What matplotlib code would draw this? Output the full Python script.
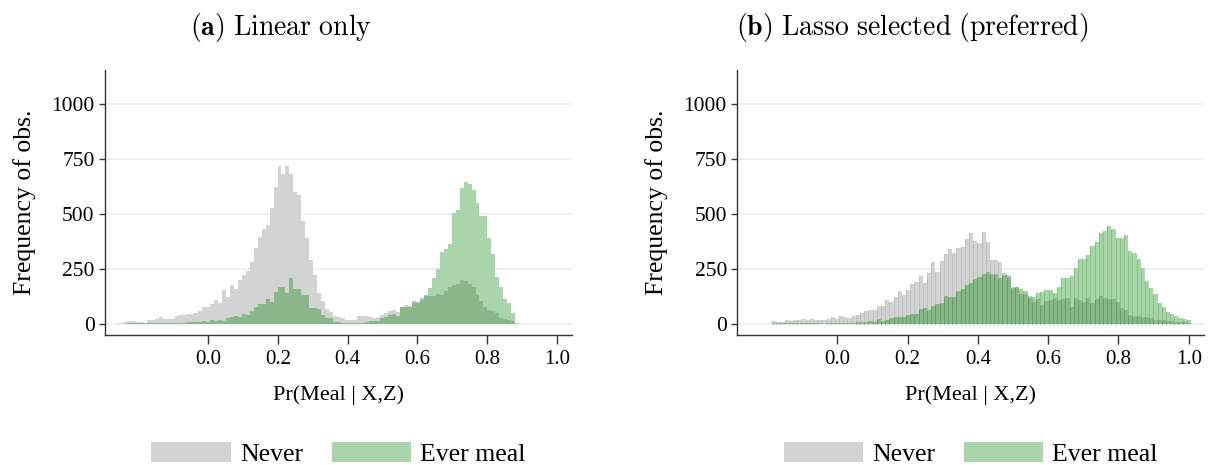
import numpy as np
import matplotlib
matplotlib.use("Agg")
import matplotlib.pyplot as plt
from matplotlib.patches import Patch

plt.rcParams['font.family'] = ['Liberation Serif', 'DejaVu Serif']
plt.rcParams['mathtext.fontset'] = 'cm'

# ---------------- data ----------------
titles = [r"$\mathbf{(a)}\ \mathrm{Linear\ only}$",
          r"$\mathbf{(b)}\ \mathrm{Lasso\ selected\ (preferred)}$"]
series_names = ["Never", "Ever meal"]
x_ticks = [0.0, 0.2, 0.4, 0.6, 0.8, 1.0]
y_ticks = [0, 250, 500, 750, 1000]

# Panel (a): 101 bins
a_bin_start = -0.2560
a_bin_width = 0.011366
a_never = [3, 8, 12, 12, 8, 8, 3, 16, 16, 21, 30, 21, 21, 21, 35, 40, 40, 44, 43, 49,
           58, 76, 76, 90, 108, 94, 153, 121, 176, 158, 199, 222, 240, 281, 345, 394, 431, 449, 528, 622,
           718, 681, 718, 681, 599, 586, 467, 388, 290, 222, 141, 103, 67, 55, 34, 29, 24, 18, 17, 17,
           35, 36, 34, 31, 25, 30, 38, 48, 58, 64, 53, 75, 84, 80, 96, 96, 108, 126, 126, 126,
           133, 130, 148, 167, 176, 182, 197, 192, 179, 167, 130, 103, 77, 62, 57, 47, 27, 20, 17, 14, 0]
a_ever = [0, 0, 2, 2, 3, 2, 2, 3, 3, 3, 2, 3, 3, 3, 3, 4, 5, 7, 8, 8,
          8, 10, 8, 16, 13, 16, 12, 26, 30, 35, 30, 44, 40, 58, 77, 90, 90, 113, 100, 145,
          167, 167, 141, 208, 158, 158, 131, 131, 73, 70, 65, 40, 26, 24, 8, 8, 5, 5, 5, 5,
          5, 5, 9, 12, 12, 14, 27, 30, 40, 46, 35, 77, 75, 78, 102, 99, 116, 131, 164, 206,
          249, 326, 340, 364, 505, 516, 617, 643, 634, 607, 547, 490, 490, 390, 317, 211, 167, 112, 94, 47, 3]

# Panel (b): 100 bins
b_bin_start = -0.1858
b_bin_width = 0.011924
b_never = [12, 6, 6, 17, 14, 17, 17, 21, 18, 21, 17, 17, 17, 21, 30, 21, 35, 30, 26, 33,
           39, 48, 59, 62, 62, 80, 80, 108, 99, 121, 150, 131, 154, 181, 190, 217, 185, 232, 281, 237,
           287, 316, 338, 323, 343, 350, 387, 411, 376, 366, 416, 370, 290, 290, 279, 232, 222, 166, 166, 134,
           134, 118, 97, 112, 85, 105, 109, 115, 106, 111, 115, 77, 115, 106, 100, 117, 93, 112, 126, 118,
           111, 112, 100, 70, 62, 39, 36, 35, 32, 32, 27, 17, 17, 17, 12, 12, 9, 9, 6, 5]
b_ever = [3, 1, 1, 1, 1, 1, 1, 1, 1, 2, 3, 3, 0, 3, 1, 3, 3, 3, 3, 3,
          6, 9, 8, 12, 8, 21, 14, 18, 26, 30, 30, 30, 41, 44, 46, 68, 72, 62, 80, 91,
          96, 125, 121, 121, 150, 159, 175, 185, 205, 210, 228, 235, 225, 228, 208, 222, 211, 162, 169, 158,
          149, 126, 120, 138, 142, 153, 153, 138, 167, 207, 207, 217, 252, 294, 294, 313, 354, 372, 411, 423,
          445, 429, 391, 388, 404, 331, 320, 293, 252, 194, 161, 135, 96, 74, 55, 42, 35, 24, 20, 17]

# ---------------- style ----------------
C_GRAY = '#d3d3d3'
C_GREEN = '#aad5aa'
C_DARK = '#8ab78a'
L_GRAY = '#bfbfbf'
L_GREEN = '#7fc47f'
L_DARK = '#5f9f5f'
GRID = '#e9f0f2'

fig = plt.figure(figsize=(12.09, 4.65), dpi=100)
W, H = 1209, 465

panels = [
    dict(start=a_bin_start, width=a_bin_width, never=a_never, ever=a_ever,
         rect=(105, 70, 572, 335.3), xlim=(-0.2965, 1.0439), edges=False),
    dict(start=b_bin_start, width=b_bin_width, never=b_never, ever=b_ever,
         rect=(737.3, 70, 1204, 335.3), xlim=(-0.2846, 1.0435), edges=True),
]

for i, p in enumerate(panels):
    x0, y0, x1, y1 = p['rect']
    ax = fig.add_axes([x0 / W, 1 - y1 / H, (x1 - x0) / W, (y1 - y0) / H])
    never = np.array(p['never'], dtype=float)
    ever = np.array(p['ever'], dtype=float)
    left_edges = p['start'] + p['width'] * np.arange(len(never))
    both = np.minimum(never, ever)

    ax.bar(left_edges, never, width=p['width'], align='edge', color=C_GRAY, linewidth=0, zorder=2)
    ax.bar(left_edges, ever, width=p['width'], align='edge', color=C_GREEN, linewidth=0, zorder=3)
    ax.bar(left_edges, both, width=p['width'], align='edge', color=C_DARK, linewidth=0, zorder=4)

    if p['edges']:
        # thin vertical separators between adjacent bars
        ax.vlines(left_edges, 0, both, colors=L_DARK, linewidth=0.75, zorder=5)
        g_top = np.where(ever > never, ever, both)
        ax.vlines(left_edges, both, g_top, colors=L_GREEN, linewidth=0.75, zorder=5)
        n_top = np.where(never > ever, never, both)
        ax.vlines(left_edges, both, n_top, colors=L_GRAY, linewidth=0.75, zorder=5)

    ax.set_xlim(*p['xlim'])
    ax.set_ylim(-53, 1154)
    ax.set_xticks(x_ticks)
    ax.set_xticklabels([f"{t:.1f}" for t in x_ticks])
    ax.set_yticks(y_ticks)
    ax.set_yticklabels([str(t) for t in y_ticks])
    ax.tick_params(axis='x', length=6.5, width=1, color='#333333', labelsize=15, pad=4)
    ax.tick_params(axis='y', length=4.5, width=1, color='#333333', labelsize=15.5, pad=3)
    for s in ['top', 'right']:
        ax.spines[s].set_visible(False)
    for s in ['left', 'bottom']:
        ax.spines[s].set_color('#333333')
        ax.spines[s].set_linewidth(1.0)
    ax.yaxis.grid(True, color=GRID, linewidth=1.3, zorder=0)
    ax.set_axisbelow(True)
    ax.set_xlabel("Pr(Meal | X,Z)", fontsize=16, labelpad=12)
    ax.set_ylabel("Frequency of obs.", fontsize=18.5, labelpad=11)

    handles = [Patch(facecolor=C_GRAY, edgecolor='none'),
               Patch(facecolor=C_GREEN, edgecolor='none')]
    ax.legend(handles, series_names, loc='upper center', bbox_to_anchor=(0.5, -0.365),
              ncol=2, frameon=False, fontsize=18.5, handlelength=3.1, handleheight=0.8,
              handletextpad=0.35, columnspacing=1.1, borderaxespad=0)

    cx = (x0 + x1) / 2 - 58
    fig.text(cx / W, 1 - 28 / H, titles[i], ha='center', va='center', fontsize=20)

fig.savefig("out.png", dpi=100)
